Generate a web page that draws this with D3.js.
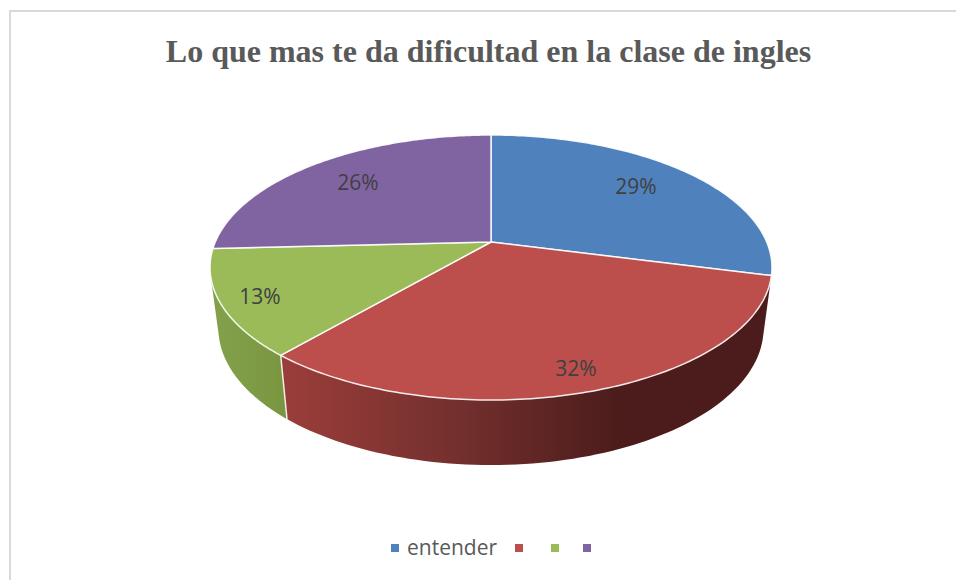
<!DOCTYPE html>
<html><head><meta charset="utf-8">
<script src="https://cdn.jsdelivr.net/npm/d3@7/dist/d3.min.js"></script>
<style>html,body{margin:0;padding:0;background:#fff}svg{display:block}</style>
</head><body><svg id="c" width="956" height="580"></svg>
<script>
const titleText = "Lo que mas te da dificultad en la clase de ingles";
const categories = ["entender", "", "", ""];
const counts = [9, 10, 4, 8];
const colors = ["#4f81bd", "#bc4f4c", "#9bbb59", "#8064a2"];
const svg = d3.select("#c");
const cx = 491, cy = 242, A = 127.6, B = 275.7, K = -0.1925;
const rimScaleX = 0.97, rimScaleY = 1.03, rimDrop = 60.3;
function topPt(t){const u=Math.sin(t),v=-Math.cos(t),d=1+K*v;return [cx+B*u/d,cy+A*v/d];}
function rimPt(t){const p=topPt(t);return [cx+(p[0]-cx)*rimScaleX,cy+rimDrop+(p[1]-cy)*rimScaleY];}
const pieGen = d3.pie().sort(null).value(d=>d);
const arcs = pieGen(counts);
const total = d3.sum(counts);
const defs = svg.append("defs");
const grad = (id,x1,x2,stops)=>{const g=defs.append("linearGradient").attr("id",id).attr("gradientUnits","userSpaceOnUse").attr("x1",x1).attr("x2",x2).attr("y1",0).attr("y2",0);
 stops.forEach(s=>g.append("stop").attr("offset",s[0]).attr("stop-color",s[1]));};
grad("g1",287,620,[[0,"#9a3d3a"],[0.5,"#74302e"],[1,"#4b1c1b"]]);
grad("g2",212,287,[[0,"#83a14c"],[1,"#7a9540"]]);
svg.append("path").attr("d","M10,580V11H956").attr("fill","none").attr("stroke","#d9d9d9").attr("stroke-width",2);
svg.append("text").attr("x",488.5).attr("y",62).attr("text-anchor","middle").attr("font-family","Liberation Serif").attr("font-weight","bold").attr("font-size",32).attr("fill","#595959").text(titleText);
const line = d3.line();
const samples=(a,b,n=80)=>d3.range(n+1).map(i=>a+(b-a)*i/n);
[[arcs[1],"url(#g1)"],[arcs[2],"url(#g2)"]].forEach(([a,fill])=>{
  const ts=samples(a.startAngle,a.endAngle);
  const hull=d3.polygonHull(ts.map(topPt).concat(ts.map(rimPt)));
  svg.append("path").attr("d",line(hull)+"Z").attr("fill",fill);
});
const sep=arcs[1].endAngle;
svg.append("path").attr("d",line([topPt(sep),rimPt(sep)])).attr("stroke","#fff").attr("stroke-width",1.5).attr("fill","none").attr("stroke-opacity",.85);
arcs.forEach((a,i)=>{
  const pts=[[cx,cy]].concat(samples(a.startAngle,a.endAngle,120).map(topPt));
  svg.append("path").attr("d",line(pts)+"Z").attr("fill",colors[i]).attr("stroke","#fff").attr("stroke-width",1.5).attr("stroke-linejoin","round").attr("stroke-opacity",.9);
});
const labelPos=[[636,187],[576,369],[260,297],[358,183]];
arcs.forEach((a,i)=>{
  svg.append("text").attr("x",labelPos[i][0]).attr("y",labelPos[i][1]+7).attr("text-anchor","middle").attr("font-family","Open Sans").attr("font-size",21).attr("fill","#404040").text(d3.format(".0%")(a.value/total));
});
const legX=[395,519,555,587];
categories.forEach((c,i)=>{
  svg.append("rect").attr("x",legX[i]-4).attr("y",544).attr("width",8).attr("height",8).attr("fill",colors[i]);
  if(c) svg.append("text").attr("x",407).attr("y",555).attr("font-family","Open Sans").attr("font-size",21).attr("fill","#595959").text(c);
});
</script></body></html>
